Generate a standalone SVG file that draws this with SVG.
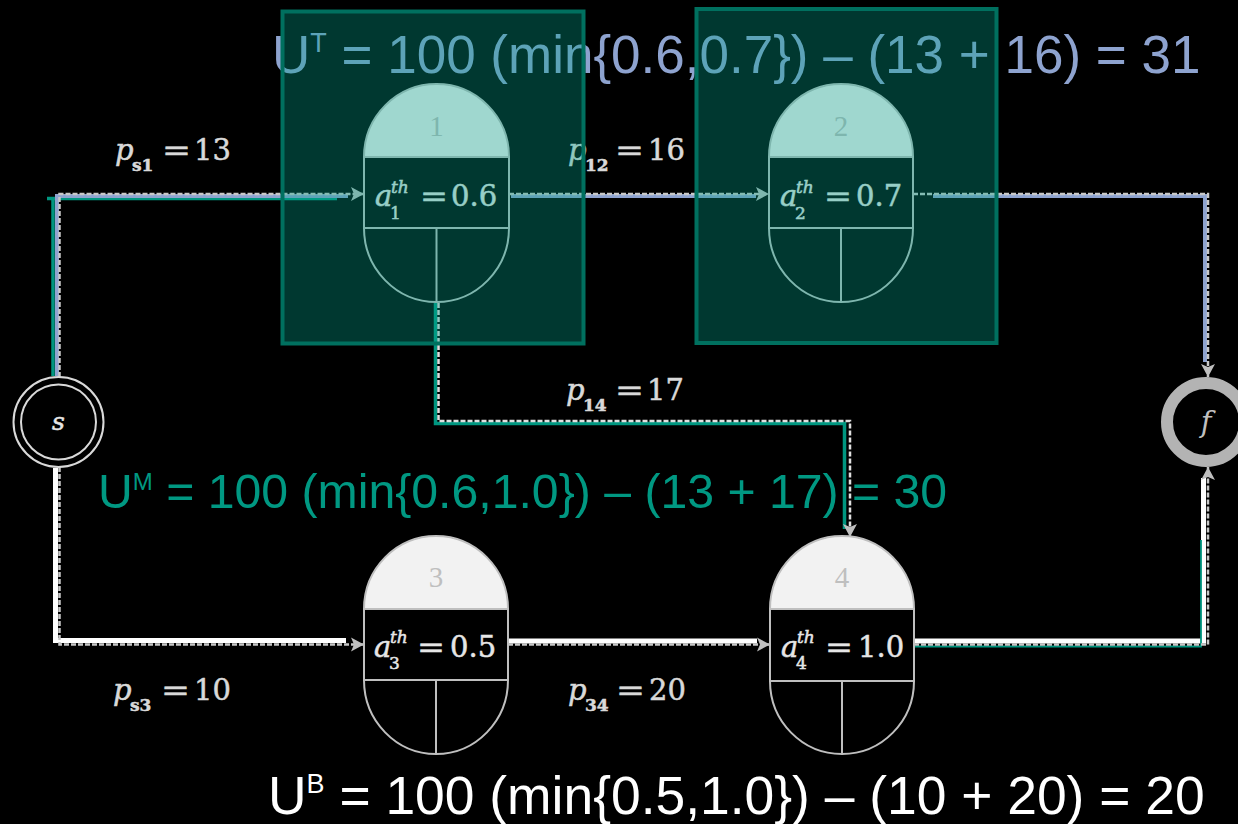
<svg xmlns="http://www.w3.org/2000/svg" width="1238" height="824" viewBox="0 0 1238 824">
<defs>
<style>
.dome{fill:#f2f2f2;stroke:#bfbfbf;stroke-width:2}
.mid,.bot{fill:#000;stroke:#bfbfbf;stroke-width:2}
.nl{stroke:#bfbfbf;stroke-width:2}
.num{font-family:"Liberation Serif",serif;font-size:29px;fill:#bfbfbf;text-anchor:middle}
.m{font-family:"DejaVu Serif",serif;fill:#e6e6e6;stroke:#e6e6e6;stroke-width:0.5;font-size:29px}
.mi{font-style:italic}
.ms{font-size:17px}
.lab{font-family:"DejaVu Serif",serif;fill:#d9d9d9;stroke:#d9d9d9;stroke-width:0.5;font-size:29px}
.lsub{font-size:17px;font-weight:bold}
.dash{fill:none;stroke:#c8c8c8;stroke-width:2.5;stroke-dasharray:5 2}
.blue{fill:none;stroke:#8ea3cf;stroke-width:4}
.teal{fill:none;stroke:#009680;stroke-width:3.5}
.white{fill:none;stroke:#ffffff;stroke-width:5}
.ov{fill:rgb(0,163,140);fill-opacity:0.34;stroke:#00705f;stroke-width:4}
.big{font-family:"Liberation Sans",Arial,sans-serif}
</style>
<marker id="arr" markerWidth="14" markerHeight="16" refX="13" refY="8" orient="auto" markerUnits="userSpaceOnUse">
<path d="M0,1 L13,8 L0,15 L3,8 Z" fill="#bfbfbf"/>
</marker>
</defs>
<rect x="0" y="0" width="1238" height="824" fill="#000"/>

<g id="formula-top">
<text class="big" x="272" y="73" font-size="53" fill="#8ea3cf">U<tspan font-size="27" dy="-21">T</tspan><tspan dy="21"> = 100 (min{0.6,0.7}) – (13 + 16) = 31</tspan></text>
</g>
<g id="formula-mid">
<text class="big" x="98" y="508" font-size="48.2" fill="#009882">U<tspan font-size="24" dy="-18">M</tspan><tspan dy="18"> = 100 (min{0.6,1.0}) – (13 + 17) = 30</tspan></text>
</g>
<g id="formula-bottom">
<text class="big" x="268" y="814" font-size="53.4" fill="#ffffff">U<tspan font-size="27" dy="-21">B</tspan><tspan dy="21"> = 100 (min{0.5,1.0}) – (10 + 20) = 20</tspan></text>
</g>

<g id="labels">
<g id="lab-s1"><text class="lab mi" x="115" y="160">p</text><text class="lab lsub" x="132" y="171">s1</text><text class="lab" x="162" y="160" textLength="29" lengthAdjust="spacingAndGlyphs">=</text><text class="lab" x="194" y="160">13</text></g>
<g id="lab-12"><text class="lab mi" x="568" y="160">p</text><text class="lab lsub" x="585" y="171">12</text><text class="lab" x="615" y="160" textLength="29" lengthAdjust="spacingAndGlyphs">=</text><text class="lab" x="648" y="160">16</text></g>
<g id="lab-14"><text class="lab mi" x="566" y="400">p</text><text class="lab lsub" x="583" y="411">14</text><text class="lab" x="615" y="400" textLength="29" lengthAdjust="spacingAndGlyphs">=</text><text class="lab" x="647" y="400">17</text></g>
<g id="lab-s3"><text class="lab mi" x="113" y="700">p</text><text class="lab lsub" x="130" y="711">s3</text><text class="lab" x="161" y="700" textLength="29" lengthAdjust="spacingAndGlyphs">=</text><text class="lab" x="194" y="700">10</text></g>
<g id="lab-34"><text class="lab mi" x="568" y="700">p</text><text class="lab lsub" x="585" y="711">34</text><text class="lab" x="616" y="700" textLength="29" lengthAdjust="spacingAndGlyphs">=</text><text class="lab" x="649" y="700">20</text></g>
</g>

<g id="connectors">
<path class="white" d="M55.5,468 V640.5 H346"/>
<path class="white" d="M509,641 H757"/>
<path class="white" d="M914,641 H1203.5 V478"/>
<path class="teal" d="M47,198.5 H337 M53,198.5 V376"/>
<path class="teal" d="M435.5,303 V423.5 H844.5 V529"/>
<path class="teal" style="stroke-width:1.8" d="M914,646.5 H1201 V540"/>
<path class="blue" d="M57,376 V196 H348"/>
<path class="blue" d="M511,196 H756"/>
<path class="blue" d="M933,196 H1205 V362"/>
<path class="dash" d="M59.5,377 V194 H364" marker-end="url(#arr)"/>
<path class="dash" d="M509,194 H769" marker-end="url(#arr)"/>
<path class="dash" d="M913,194 H1208 V377" marker-end="url(#arr)"/>
<path class="dash" style="stroke:#e0e0e0" d="M438.5,303 V421 H850 V537" marker-end="url(#arr)"/>
<path class="dash" d="M59.5,467 V644.5 H364" marker-end="url(#arr)"/>
<path class="dash" d="M508,644.5 H770" marker-end="url(#arr)"/>
<path class="dash" d="M914,644.5 H1208 V467" marker-end="url(#arr)"/>
</g>

<g id="node-s">
<circle cx="58.5" cy="422" r="45" fill="#000" stroke="#d9d9d9" stroke-width="2"/>
<circle cx="58.5" cy="422" r="37.5" fill="none" stroke="#d9d9d9" stroke-width="2"/>
<text class="m mi" x="58.5" y="430" text-anchor="middle" style="font-size:25px">s</text>
</g>

<g id="node-f">
<circle cx="1206" cy="422" r="39" fill="#000" stroke="#b3b3b3" stroke-width="12"/>
<text x="1206" y="432" text-anchor="middle" font-family="DejaVu Serif, serif" font-style="italic" font-size="29" fill="#bfbfbf">f</text>
</g>

<g id="node1">
<path class="dome" d="M364,157 A72.5,73 0 0 1 509,157 Z"/>
<rect class="mid" x="364" y="157" width="145" height="71"/>
<path class="bot" d="M364,228 A72.5,74 0 0 0 509,228 Z"/>
<line class="nl" x1="436.5" y1="228" x2="436.5" y2="302"/>
<text class="num" x="436.5" y="136">1</text>
<text class="m mi" x="375" y="206">a</text>
<text class="m mi ms" x="391" y="193">th</text>
<text class="m ms" x="390" y="219">1</text>
<text class="m" x="420" y="206" textLength="28" lengthAdjust="spacingAndGlyphs">=</text>
<text class="m" x="451" y="206">0.6</text>
</g>

<g id="node2">
<path class="dome" d="M769,157 A72,73 0 0 1 913,157 Z"/>
<rect class="mid" x="769" y="157" width="144" height="71"/>
<path class="bot" d="M769,228 A72,74 0 0 0 913,228 Z"/>
<line class="nl" x1="841" y1="228" x2="841" y2="302"/>
<text class="num" x="841" y="136">2</text>
<text class="m mi" x="780" y="206">a</text>
<text class="m mi ms" x="796" y="193">th</text>
<text class="m ms" x="795" y="219">2</text>
<text class="m" x="824" y="206" textLength="28" lengthAdjust="spacingAndGlyphs">=</text>
<text class="m" x="856" y="206">0.7</text>
</g>

<g id="node3">
<path class="dome" d="M364,609 A72,73 0 0 1 508,609 Z"/>
<rect class="mid" x="364" y="609" width="144" height="71"/>
<path class="bot" d="M364,680 A72,74 0 0 0 508,680 Z"/>
<line class="nl" x1="436" y1="680" x2="436" y2="754"/>
<text class="num" x="436" y="587">3</text>
<text class="m mi" x="374" y="657">a</text>
<text class="m mi ms" x="390" y="643">th</text>
<text class="m ms" x="389" y="669">3</text>
<text class="m" x="417" y="657" textLength="28" lengthAdjust="spacingAndGlyphs">=</text>
<text class="m" x="450" y="657">0.5</text>
</g>

<g id="node4">
<path class="dome" d="M770,609 A72,73 0 0 1 914,609 Z"/>
<rect class="mid" x="770" y="609" width="144" height="72"/>
<path class="bot" d="M770,681 A72,73 0 0 0 914,681 Z"/>
<line class="nl" x1="842" y1="681" x2="842" y2="754"/>
<text class="num" x="842" y="587">4</text>
<text class="m mi" x="781" y="657">a</text>
<text class="m mi ms" x="797" y="643">th</text>
<text class="m ms" x="796" y="669">4</text>
<text class="m" x="825" y="657" textLength="28" lengthAdjust="spacingAndGlyphs">=</text>
<text class="m" x="858" y="657">1.0</text>
</g>

<g id="highlight-boxes">
<rect class="ov" x="282.5" y="11.5" width="301" height="332"/>
<rect class="ov" x="696.5" y="9" width="300" height="334"/>
</g>
</svg>
